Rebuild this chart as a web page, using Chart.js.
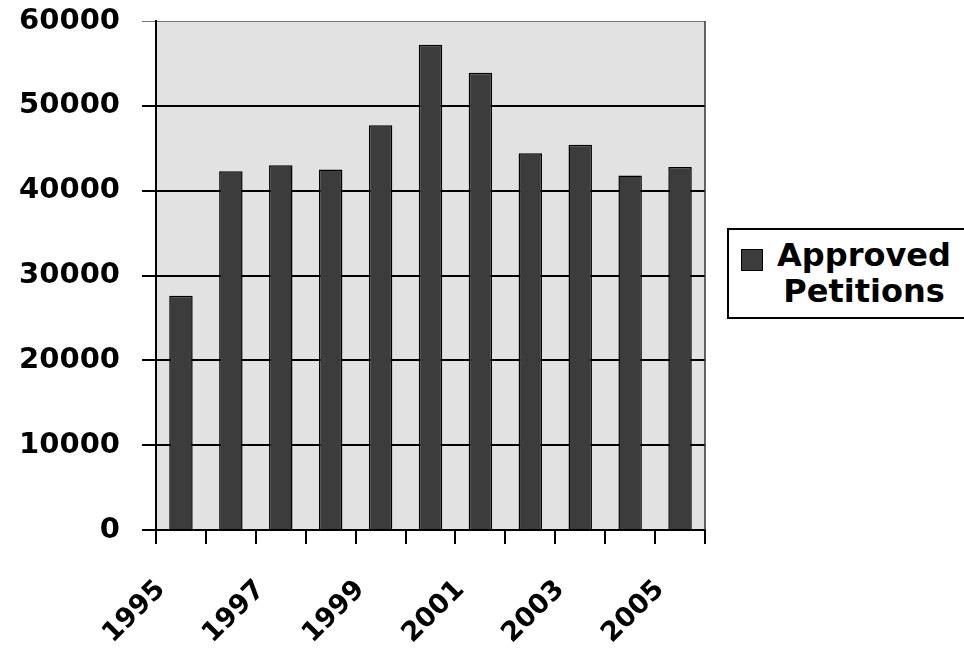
<!DOCTYPE html>
<html>
<head>
<meta charset="utf-8">
<script src="https://cdn.jsdelivr.net/npm/chart.js@4.4.1/dist/chart.umd.min.js"></script>
<style>
    html, body { margin: 0; padding: 0; background: #fff; }
    #wrap { position: relative; width: 964px; height: 651px; overflow: hidden; }
    #chart { position: absolute; left: 0; top: 0; }
    #legend {
        position: absolute; left: 727px; top: 228px; width: 260px; height: 87px;
        border: 2px solid #000; background: #fff;
        font-family: "DejaVu Sans", sans-serif; font-weight: bold; font-size: 32px;
    }
    #legend .box {
        position: absolute; left: 12px; top: 19px; width: 20px; height: 20px;
        background: #3c3c3c; border: 1px solid #000;
    }
    #legend .txt {
        position: absolute; left: 46px; width: 178px; top: 7px;
        text-align: center; line-height: 36px; color: #000;
    }
</style>
</head>
<body>
<div id="wrap">
    <canvas id="chart" width="964" height="651"></canvas>
    <div id="legend">
        <div class="box"></div>
        <div class="txt">Approved<br>Petitions</div>
    </div>
</div>
<script>
// 데이터
const years = ["1995", "1996", "1997", "1998", "1999", "2000", "2001", "2002", "2003", "2004", "2005"];
const approved = [27600, 42300, 43000, 42500, 47700, 57200, 53900, 44400, 45400, 41800, 42800];
const seriesName = "Approved Petitions";
const yTicks = [0, 10000, 20000, 30000, 40000, 50000, 60000];

// 플롯 배경 + 오른쪽 테두리
const plotFrame = {
    id: "plotFrame",
    beforeDraw(chart) {
        const { ctx, chartArea: a } = chart;
        ctx.save();
        ctx.fillStyle = "#e2e2e2";
        ctx.fillRect(a.left, a.top, a.right - a.left, a.bottom - a.top);
        ctx.restore();
    },
    afterDraw(chart) {
        const { ctx, chartArea: a } = chart;
        ctx.save();
        ctx.strokeStyle = "#333";
        ctx.lineWidth = 1.5;
        ctx.beginPath();
        ctx.moveTo(a.right, a.top);
        ctx.lineTo(a.right, a.bottom);
        ctx.stroke();
        ctx.restore();
    }
};

new Chart(document.getElementById("chart"), {
    type: "bar",
    data: {
        labels: years,
        datasets: [{
            label: seriesName,
            data: approved,
            backgroundColor: "#3c3c3c",
            borderColor: "#000",
            borderWidth: 1.5,
            categoryPercentage: 1,
            barPercentage: 0.47
        }]
    },
    options: {
        responsive: false,
        animation: false,
        layout: { padding: { left: 0, right: 259, top: 21, bottom: 0 } },
        plugins: {
            legend: { display: false },
            tooltip: { enabled: false }
        },
        scales: {
            x: {
                afterFit: scale => { scale.height = 121; },
                border: { color: "#000", width: 2 },
                grid: {
                    drawOnChartArea: false,
                    offset: true,
                    color: "#000",
                    lineWidth: 2,
                    tickLength: 14
                },
                ticks: {
                    autoSkip: false,
                    minRotation: 45,
                    maxRotation: 45,
                    labelOffset: -20,
                    padding: 30,
                    color: "#000",
                    font: { family: "DejaVu Sans", weight: "bold", size: 27 },
                    callback: function (val, i) {
                        return i % 2 === 0 ? years[i] : "";
                    }
                }
            },
            y: {
                min: yTicks[0],
                max: yTicks[yTicks.length - 1],
                afterFit: scale => {
                    scale.width = 156;
                    scale.paddingTop = 0; // 위쪽 여백은 layout padding으로
                    scale.paddingBottom = 0;
                },
                afterBuildTicks: scale => { scale.ticks = yTicks.map(v => ({ value: v })); },
                border: { color: "#000", width: 2 },
                grid: {
                    color: ctx => (ctx.tick && ctx.tick.value === 60000 ? "#777" : "#000"),
                    lineWidth: ctx => (ctx.tick && ctx.tick.value === 60000 ? 1 : 2),
                    tickLength: 14
                },
                ticks: {
                    padding: 22,
                    color: "#000",
                    font: { family: "DejaVu Sans", weight: "bold", size: 29 },
                    callback: val => String(val)
                }
            }
        }
    },
    plugins: [plotFrame]
});
</script>
</body>
</html>
